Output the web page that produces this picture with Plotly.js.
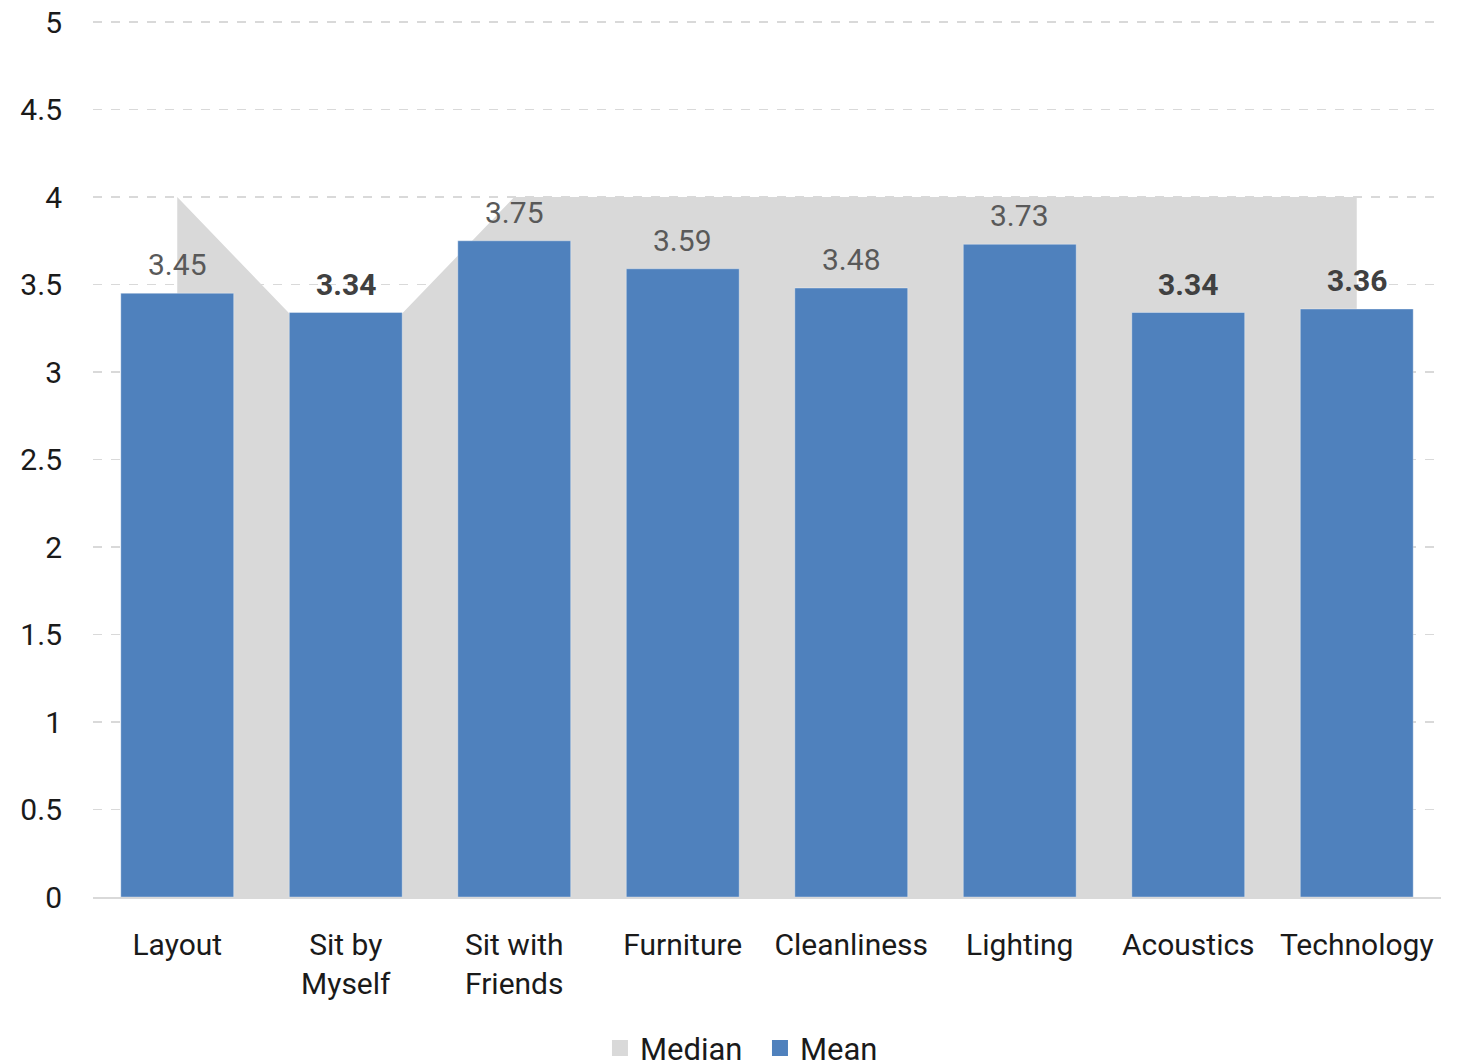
<!DOCTYPE html>
<html>
<head>
<meta charset="utf-8">
<script src="https://cdn.plot.ly/plotly-3.0.1.min.js"></script>
<style>html,body{margin:0;padding:0;background:#fff;}#chart{width:1466px;height:1061px;}</style>
</head>
<body>
<div id="chart"></div>
<script>
var categories = ["Layout", "Sit by<br>Myself", "Sit with<br>Friends", "Furniture", "Cleanliness", "Lighting", "Acoustics", "Technology"];
var medianValues = [4, 3, 4, 4, 4, 4, 4, 4];
var meanValues = [3.45, 3.34, 3.75, 3.59, 3.48, 3.73, 3.34, 3.36];
var boldLabel = [false, true, false, false, false, false, true, true];
var yTicks = [0, 0.5, 1, 1.5, 2, 2.5, 3, 3.5, 4, 4.5, 5];
var seriesNames = ["Median", "Mean"];
var seriesColors = ["#d9d9d9", "#4f81bd"];

var FONT = "Roboto, 'DejaVu Sans', sans-serif";

var medianTrace = {
  type: "scatter",
  x: categories,
  y: medianValues,
  name: seriesNames[0],
  mode: "none",
  fill: "tozeroy",
  fillcolor: seriesColors[0],
  xaxis: "x",
  yaxis: "y",
  showlegend: false,
  hoverinfo: "skip"
};

var meanTrace = {
  type: "bar",
  x: categories,
  y: meanValues,
  name: seriesNames[1],
  marker: { color: seriesColors[1], line: { color: "rgba(255,255,255,0.35)", width: 1 } },
  xaxis: "x2",
  yaxis: "y2",
  showlegend: false
};

// legend-only entries (square swatches), no drawn data
var legendTraces = seriesNames.map(function (n, i) {
  return {
    type: "scatter",
    mode: "markers",
    x: categories,
    y: categories.map(function () { return null; }),
    name: n,
    marker: { symbol: "square", size: 20, color: seriesColors[i] },
    xaxis: "x2",
    yaxis: "y2",
    showlegend: true,
    hoverinfo: "skip"
  };
});

var annotations = meanValues.map(function (v, i) {
  return {
    x: categories[i],
    y: v,
    xref: "x2",
    yref: "y2",
    text: boldLabel[i] ? "<b>" + v.toFixed(2) + "</b>" : v.toFixed(2),
    showarrow: false,
    yanchor: "bottom",
    yshift: 9,
    font: { family: FONT, size: 30, color: boldLabel[i] ? "#404040" : "#595959" }
  };
});

var layout = {
  width: 1466,
  height: 1061,
  margin: { l: 93, r: 25, t: 21, b: 164 },
  paper_bgcolor: "#ffffff",
  plot_bgcolor: "#ffffff",
  font: { family: FONT, size: 30, color: "#1a1a1a" },
  showlegend: true,
  legend: {
    orientation: "h",
    xref: "container",
    yref: "container",
    x: 0.5184,
    xanchor: "center",
    y: 0.012,
    yanchor: "middle",
    font: { family: FONT, size: 31, color: "#1a1a1a" },
    itemwidth: 30,
    entrywidth: 115,
    traceorder: "normal"
  },
  xaxis: {
    type: "category",
    range: [-0.5, 7.5],
    showgrid: false,
    showline: true,
    linecolor: "#d9d9d9",
    linewidth: 2,
    ticks: "",
    ticklabelstandoff: 20,
    tickfont: { family: FONT, size: 30, color: "#1a1a1a" },
    fixedrange: true
  },
  yaxis: {
    range: [0, 5.006],
    tickvals: yTicks,
    ticktext: yTicks.map(String),
    showgrid: true,
    gridcolor: "#d9d9d9",
    gridwidth: 1.5,
    griddash: "dash",
    zeroline: false,
    showline: false,
    ticks: "",
    ticklabelstandoff: 30,
    tickfont: { family: FONT, size: 30, color: "#1a1a1a" },
    fixedrange: true
  },
  xaxis2: {
    type: "category",
    overlaying: "x",
    range: [-0.5, 7.5],
    visible: false,
    fixedrange: true
  },
  yaxis2: {
    overlaying: "y",
    range: [0, 5.006],
    visible: false,
    fixedrange: true
  },
  bargap: 0.33,
  annotations: annotations
};

Plotly.newPlot("chart", [medianTrace, meanTrace].concat(legendTraces), layout, { displayModeBar: false, staticPlot: true });
</script>
</body>
</html>
